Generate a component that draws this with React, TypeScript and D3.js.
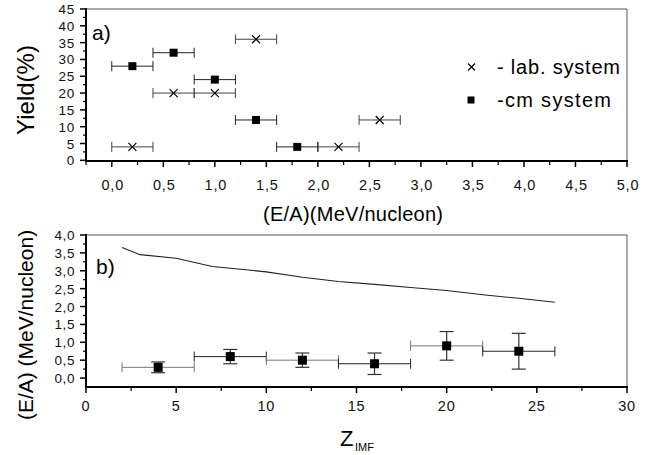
import React from "react";
import * as d3 from "d3";

// ---- Panel a) data ----
const labEA = [1.4, 0.6, 1.0, 0.2, 2.6, 2.2];
const labYield = [36, 20, 20, 4, 12, 4];
const cmEA = [0.2, 0.6, 1.0, 1.4, 1.8];
const cmYield = [28, 32, 24, 12, 4];
const eaHalfBin = 0.2;
const aXTicks = [0, 0.5, 1.0, 1.5, 2.0, 2.5, 3.0, 3.5, 4.0, 4.5, 5.0];
const aYTicks = [0, 5, 10, 15, 20, 25, 30, 35, 40, 45];

// ---- Panel b) data ----
const zBins = [4, 8, 12, 16, 20, 24];
const zEA = [0.3, 0.6, 0.5, 0.4, 0.9, 0.75];
const zEAErr = [0.15, 0.2, 0.2, 0.3, 0.4, 0.5];
const zHalfBin = 2;
const curveZ = [2, 3, 5, 7, 10, 12, 14, 16, 18, 20, 22, 24, 26];
const curveEA = [3.65, 3.45, 3.35, 3.12, 2.97, 2.82, 2.7, 2.62, 2.53, 2.45, 2.33, 2.23, 2.12];
const bXTicks = [0, 5, 10, 15, 20, 25, 30];
const bYTicks = [0, 0.5, 1.0, 1.5, 2.0, 2.5, 3.0, 3.5, 4.0];

const FONT = "'Liberation Sans', Arial, Helvetica, sans-serif";
const comma = (v: number) => d3.format(".1f")(v).replace(".", ",");

export default function App() {
  const W = 660, H = 455;
  const L = 86, R = 627;

  const xa = d3.scaleLinear().domain([-0.25, 5]).range([L, R]);
  const ya = d3.scaleLinear().domain([-0.2, 45]).range([161, 9]);
  const xb = d3.scaleLinear().domain([0, 30]).range([L, R]);
  const yb = d3.scaleLinear().domain([-0.25, 4]).range([387, 235]);

  const line = d3.line<number>().x((_, i) => xb(curveZ[i])).y((d) => yb(d));

  const hBar = (x0: number, x1: number, y: number, key: string, color = "#333") => (
    <g key={key} stroke={color} strokeWidth={1}>
      <line x1={x0} x2={x1} y1={y} y2={y} />
      <line x1={x0} x2={x0} y1={y - 5} y2={y + 5} />
      <line x1={x1} x2={x1} y1={y - 5} y2={y + 5} />
    </g>
  );

  const aMinorX = d3.range(-0.25, 5.01, 0.25).filter((v) => Math.abs(v * 2 - Math.round(v * 2)) > 0.01);
  const aMinorY = d3.range(2.5, 45, 5);
  const bMinorX = d3.range(2.5, 30, 5);
  const bMinorY = d3.range(0.25, 4, 0.5);

  const tickText = { fontFamily: FONT, fill: "#111" } as const;

  return (
    <svg width={W} height={H} style={{ position: "absolute", left: 0, top: 0, background: "#fff" }}>
      <rect x={0} y={0} width={W} height={H} fill="#fff" />
      {/* ===== Panel a ===== */}
      <line x1={L} x2={R} y1={9} y2={9} stroke="#555" strokeWidth={1} />
      <line x1={R} x2={R} y1={9} y2={161} stroke="#555" strokeWidth={1} />
      <line x1={L} x2={L} y1={8} y2={162} stroke="#000" strokeWidth={2} />
      <line x1={L - 1} x2={R + 1} y1={161} y2={161} stroke="#000" strokeWidth={2} />
      {aYTicks.map((t) => (
        <g key={"ay" + t}>
          <line x1={L - 6} x2={L} y1={ya(t)} y2={ya(t)} stroke="#000" strokeWidth={1.5} />
          <text x={75} y={ya(t) + 5} textAnchor="end" fontSize={13.5} letterSpacing={0.8} {...tickText}>
            {t}
          </text>
        </g>
      ))}
      {aMinorY.map((t) => (
        <line key={"aym" + t} x1={L - 3} x2={L} y1={ya(t)} y2={ya(t)} stroke="#000" strokeWidth={1.2} />
      ))}
      {aXTicks.map((t) => (
        <g key={"ax" + t}>
          <line x1={xa(t)} x2={xa(t)} y1={161} y2={167} stroke="#000" strokeWidth={1.5} />
          <text x={xa(t) + 1} y={190} textAnchor="middle" fontSize={14.5} letterSpacing={0.8} {...tickText}>
            {comma(t)}
          </text>
        </g>
      ))}
      {aMinorX.map((t) => (
        <line key={"axm" + t} x1={xa(t)} x2={xa(t)} y1={161} y2={165} stroke="#000" strokeWidth={1.2} />
      ))}
      <text x={92} y={40} fontSize={21} fontFamily={FONT} fill="#000">a)</text>
      {labEA.map((v, i) => (
        <g key={"lab" + i}>
          {hBar(xa(v - eaHalfBin), xa(v + eaHalfBin), ya(labYield[i]), "lb" + i, "#444")}
          <path
            d={`M${xa(v) - 4},${ya(labYield[i]) - 4}L${xa(v) + 4},${ya(labYield[i]) + 4}M${xa(v) - 4},${ya(labYield[i]) + 4}L${xa(v) + 4},${ya(labYield[i]) - 4}`}
            stroke="#000"
            strokeWidth={1.2}
            fill="none"
          />
        </g>
      ))}
      {cmEA.map((v, i) => (
        <g key={"cm" + i}>
          {hBar(xa(v - eaHalfBin), xa(v + eaHalfBin), ya(cmYield[i]), "cb" + i, "#222")}
          <rect x={xa(v) - 4} y={ya(cmYield[i]) - 4} width={8} height={8} fill="#000" />
        </g>
      ))}
      {/* legend */}
      <path d="M468,63.5L475,70.5M468,70.5L475,63.5" stroke="#000" strokeWidth={1.2} />
      <text x={497} y={74} fontSize={20} fontFamily={FONT} fill="#000" textLength={123} lengthAdjust="spacing">
        - lab. system
      </text>
      <rect x={467.5} y={96.5} width={7} height={7} fill="#000" />
      <text x={497} y={107} fontSize={20} fontFamily={FONT} fill="#000" textLength={114} lengthAdjust="spacing">
        -cm system
      </text>
      <text x={353} y={221} textAnchor="middle" fontSize={20} fontFamily={FONT} fill="#000" textLength={180} lengthAdjust="spacing">
        (E/A)(MeV/nucleon)
      </text>
      <text transform="translate(34,90) rotate(-90)" textAnchor="middle" fontSize={24} fontFamily={FONT} fill="#000">
        Yield(%)
      </text>

      {/* ===== Panel b ===== */}
      <line x1={L} x2={R} y1={235} y2={235} stroke="#555" strokeWidth={1} />
      <line x1={R} x2={R} y1={235} y2={387} stroke="#555" strokeWidth={1} />
      <line x1={L} x2={L} y1={234} y2={388} stroke="#000" strokeWidth={2} />
      <line x1={L - 1} x2={R + 1} y1={387} y2={387} stroke="#000" strokeWidth={2} />
      {bYTicks.map((t) => (
        <g key={"by" + t}>
          <line x1={L - 6} x2={L} y1={yb(t)} y2={yb(t)} stroke="#000" strokeWidth={1.5} />
          <text x={75} y={yb(t) + 5} textAnchor="end" fontSize={13.5} letterSpacing={0.6} {...tickText}>
            {comma(t)}
          </text>
        </g>
      ))}
      {bMinorY.map((t) => (
        <line key={"bym" + t} x1={L - 3} x2={L} y1={yb(t)} y2={yb(t)} stroke="#000" strokeWidth={1.2} />
      ))}
      {bXTicks.map((t) => (
        <g key={"bx" + t}>
          <line x1={xb(t)} x2={xb(t)} y1={387} y2={393} stroke="#000" strokeWidth={1.5} />
          <text x={xb(t)} y={411} textAnchor="middle" fontSize={14.5} letterSpacing={0.8} {...tickText}>
            {t}
          </text>
        </g>
      ))}
      {bMinorX.map((t) => (
        <line key={"bxm" + t} x1={xb(t)} x2={xb(t)} y1={387} y2={391} stroke="#000" strokeWidth={1.2} />
      ))}
      <text x={96} y={274} fontSize={21} fontFamily={FONT} fill="#000">b)</text>
      <path d={line(curveEA) || ""} fill="none" stroke="#222" strokeWidth={1.1} />
      {zBins.map((z, i) => {
        const cx = xb(z), cy = yb(zEA[i]);
        const yt = yb(zEA[i] + zEAErr[i]), ybm = yb(zEA[i] - zEAErr[i]);
        return (
          <g key={"zb" + i}>
            {hBar(xb(z - zHalfBin), xb(z + zHalfBin), cy, "zh" + i, i % 2 === 0 ? "#777" : "#222")}
            <g stroke="#333" strokeWidth={1.2}>
              <line x1={cx} x2={cx} y1={yt} y2={ybm} />
              <line x1={cx - 7} x2={cx + 7} y1={yt} y2={yt} />
              <line x1={cx - 7} x2={cx + 7} y1={ybm} y2={ybm} />
            </g>
            <rect x={cx - 4.5} y={cy - 4.5} width={9} height={9} fill="#000" />
          </g>
        );
      })}
      <text transform="translate(33,325) rotate(-90)" textAnchor="middle" fontSize={21} fontFamily={FONT} fill="#000">
        (E/A) (MeV/nucleon)
      </text>
      <text x={340} y={446} fontSize={22} fontFamily={FONT} fill="#000">Z</text>
      <text x={355} y={451} fontSize={11} fontFamily={FONT} fill="#000">IMF</text>
    </svg>
  );
}
